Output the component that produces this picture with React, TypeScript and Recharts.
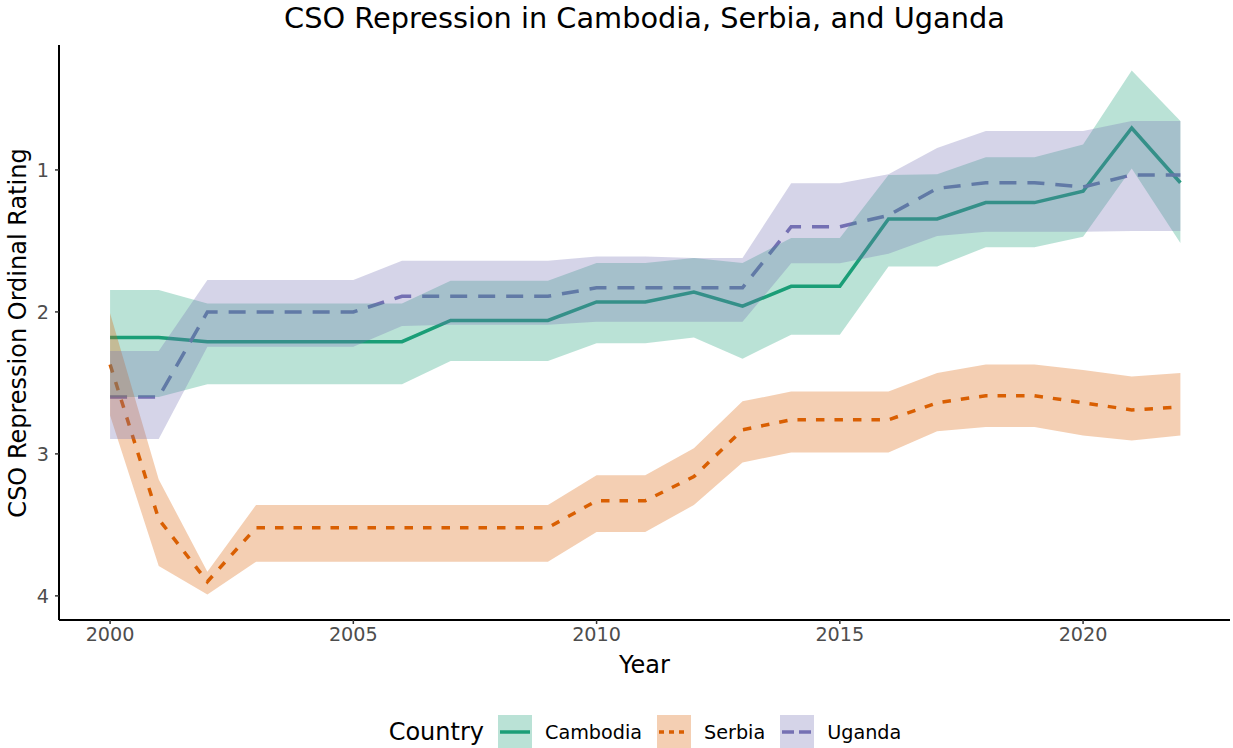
import { ComposedChart, Area, Line, XAxis, YAxis } from 'recharts';

const years = [2000, 2001, 2002, 2003, 2004, 2005, 2006, 2007, 2008, 2009, 2010, 2011, 2012, 2013, 2014, 2015, 2016, 2017, 2018, 2019, 2020, 2021, 2022];

// ordinal rating estimates, with the interval bounds drawn as ribbons
const cambodia = [2.18, 2.18, 2.21, 2.21, 2.21, 2.21, 2.21, 2.06, 2.06, 2.06, 1.93, 1.93, 1.86, 1.96, 1.82, 1.82, 1.345, 1.345, 1.23, 1.23, 1.15, 0.705, 1.09];
const cambodiaLow = [1.845, 1.845, 1.94, 1.94, 1.94, 1.94, 1.94, 1.78, 1.78, 1.78, 1.655, 1.655, 1.62, 1.655, 1.48, 1.48, 1.035, 1.03, 0.91, 0.91, 0.82, 0.3, 0.655];
const cambodiaHigh = [2.6, 2.6, 2.51, 2.51, 2.51, 2.51, 2.51, 2.345, 2.345, 2.345, 2.22, 2.22, 2.18, 2.33, 2.16, 2.16, 1.68, 1.68, 1.545, 1.545, 1.47, 0.99, 1.515];

const serbia = [2.37, 3.46, 3.9, 3.52, 3.52, 3.52, 3.52, 3.52, 3.52, 3.52, 3.33, 3.33, 3.16, 2.83, 2.76, 2.76, 2.76, 2.64, 2.59, 2.59, 2.64, 2.69, 2.67];
const serbiaLow = [2.01, 3.18, 3.83, 3.36, 3.36, 3.36, 3.36, 3.36, 3.36, 3.36, 3.15, 3.15, 2.96, 2.63, 2.56, 2.56, 2.56, 2.43, 2.37, 2.37, 2.41, 2.455, 2.43];
const serbiaHigh = [2.73, 3.79, 3.99, 3.76, 3.76, 3.76, 3.76, 3.76, 3.76, 3.76, 3.55, 3.55, 3.36, 3.06, 2.99, 2.99, 2.99, 2.84, 2.81, 2.81, 2.87, 2.905, 2.87];

const uganda = [2.6, 2.6, 2.0, 2.0, 2.0, 2.0, 1.89, 1.89, 1.89, 1.89, 1.83, 1.83, 1.83, 1.83, 1.4, 1.4, 1.32, 1.13, 1.09, 1.09, 1.12, 1.035, 1.035];
const ugandaLow = [2.275, 2.275, 1.775, 1.775, 1.775, 1.775, 1.64, 1.64, 1.64, 1.64, 1.61, 1.61, 1.62, 1.62, 1.094, 1.094, 1.03, 0.845, 0.725, 0.725, 0.725, 0.655, 0.655];
const ugandaHigh = [2.895, 2.895, 2.245, 2.245, 2.245, 2.245, 2.1, 2.09, 2.09, 2.09, 2.07, 2.07, 2.07, 2.07, 1.657, 1.657, 1.59, 1.465, 1.435, 1.435, 1.435, 1.43, 1.43];

const xTicks = [2000, 2005, 2010, 2015, 2020];
const yTicks = [1, 2, 3, 4];

const countries = [
  { name: 'Cambodia', color: '#1b9e77', dash: undefined, keyDash: undefined },
  { name: 'Serbia', color: '#d95f02', dash: '8.5 10', keyDash: '5 5' },
  { name: 'Uganda', color: '#7570b3', dash: '17 11', keyDash: '12 5' },
];

const data = years.map((year, i) => ({
  year,
  Cambodia: cambodia[i],
  Serbia: serbia[i],
  Uganda: uganda[i],
  CambodiaBand: [cambodiaLow[i], cambodiaHigh[i]],
  SerbiaBand: [serbiaLow[i], serbiaHigh[i]],
  UgandaBand: [ugandaLow[i], ugandaHigh[i]],
}));

const font = '"DejaVu Sans", sans-serif';

function LegendKey({ color, dash }: { color: string; dash?: string }) {
  return (
    <svg width={34} height={34} style={{ display: 'block' }}>
      <rect x={0} y={0} width={34} height={34} fill={color} fillOpacity={0.3} />
      <line x1={2} x2={32} y1={17} y2={17} stroke={color} strokeWidth={3.5} strokeDasharray={dash} />
    </svg>
  );
}

export default function App() {
  return (
    <div style={{ position: 'absolute', left: 0, top: 0, width: 1233, height: 748, background: '#fff', fontFamily: font, overflow: 'hidden' }}>
      <div style={{ position: 'absolute', left: 59, width: 1171, top: 1, lineHeight: '34px', textAlign: 'center', fontSize: 28.8, color: '#000' }}>
        CSO Repression in Cambodia, Serbia, and Uganda
      </div>

      <ComposedChart width={1233} height={748} data={data} margin={{ top: 45, right: 3, bottom: 98, left: 0 }}>
        <XAxis
          dataKey="year"
          type="number"
          domain={[1998.95, 2023.02]}
          ticks={xTicks}
          allowDataOverflow
          height={30}
          stroke="#000"
          strokeWidth={2}
          tickLine={{ stroke: '#333', strokeWidth: 1.5 }}
          tickSize={4}
          tickMargin={3}
          tick={{ fill: '#4d4d4d', fontSize: 19.2, fontFamily: font }}
        />
        <YAxis
          type="number"
          domain={[0.12, 4.17]}
          ticks={yTicks}
          reversed
          allowDataOverflow
          width={59}
          stroke="#000"
          strokeWidth={2}
          tickLine={{ stroke: '#333', strokeWidth: 1.5 }}
          tickSize={4}
          tickMargin={6}
          tick={{ fill: '#4d4d4d', fontSize: 19.2, fontFamily: font }}
        />
        {countries.map((c) => (
          <Line
            key={c.name}
            type="linear"
            dataKey={c.name}
            stroke={c.color}
            strokeWidth={3.5}
            strokeDasharray={c.dash}
            dot={false}
            activeDot={false}
            isAnimationActive={false}
            zIndex={400}
          />
        ))}
        {countries.map((c) => (
          <Area
            key={c.name + 'band'}
            type="linear"
            dataKey={c.name + 'Band'}
            stroke="none"
            fill={c.color}
            fillOpacity={0.3}
            activeDot={false}
            isAnimationActive={false}
            zIndex={450}
          />
        ))}
      </ComposedChart>

      <div style={{ position: 'absolute', left: 0, top: 0, width: 36, height: 665, display: 'flex', alignItems: 'center', justifyContent: 'center' }}>
        <div style={{ transform: 'rotate(-90deg)', whiteSpace: 'nowrap', fontSize: 24, color: '#000' }}>
          CSO Repression Ordinal Rating
        </div>
      </div>
      <div style={{ position: 'absolute', left: 59, width: 1171, top: 649, lineHeight: '32px', textAlign: 'center', fontSize: 24, color: '#000' }}>
        Year
      </div>

      <div style={{ position: 'absolute', left: 0, width: 1233, top: 715, height: 34, display: 'flex', justifyContent: 'center', alignItems: 'center', paddingLeft: 57, boxSizing: 'border-box' }}>
        <span style={{ fontSize: 24, marginRight: 14 }}>Country</span>
        {countries.map((c, i) => (
          <div key={c.name} style={{ display: 'flex', alignItems: 'center', marginRight: i < countries.length - 1 ? 15 : 0 }}>
            <LegendKey color={c.color} dash={c.keyDash} />
            <span style={{ fontSize: 19.2, marginLeft: 13 }}>{c.name}</span>
          </div>
        ))}
      </div>
    </div>
  );
}
